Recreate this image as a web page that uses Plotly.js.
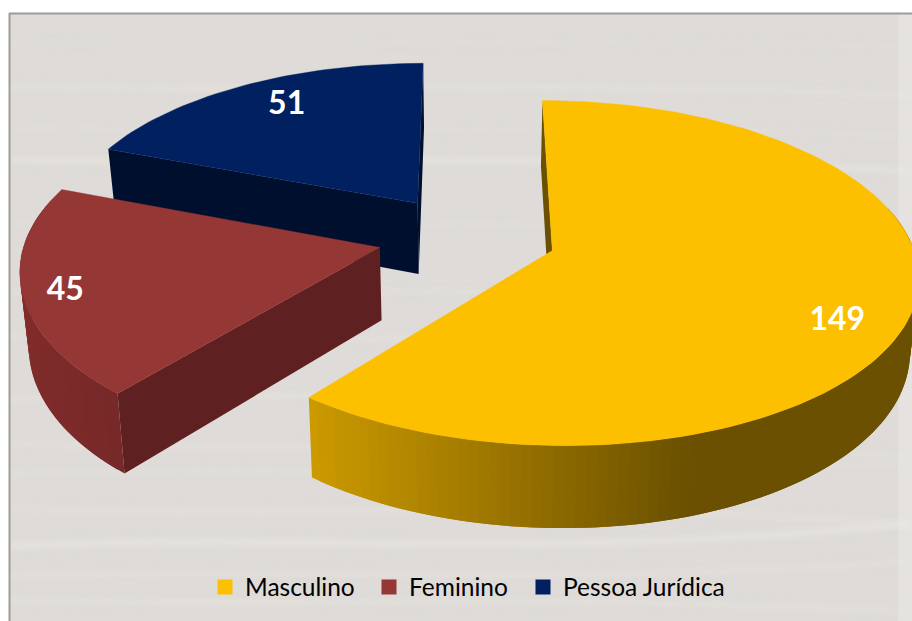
<!DOCTYPE html>
<html><head><meta charset="utf-8">
<script src="https://cdn.plot.ly/plotly-3.0.1.min.js"></script>
<style>html,body{margin:0;padding:0;background:#fff;overflow:hidden}#c{width:912px;height:621px}</style>
</head><body><div id="c"></div>
<script>
// ---- data ----
const categories = ['Masculino', 'Feminino', 'Pessoa Jurídica'];
const counts = [149, 45, 51];
const topColors = ['#FDC000', '#953735', '#002060'];
const radialWallColors = ['#6A5000', '#5E2020', '#000F2E'];

// ---- projection of the tilted, exploded pie onto the page ----
const W = 912, H = 621;
const cam = {cx:467, cy:236.6, f:358, g:166, p:0.129, cyB:309, gB:174, fB:0.98, explode:0.25};
const labelPlacement = [{r:0.83, shift:8}, {r:0.87, shift:-1}, {r:0.81, shift:3.2}];
const labelDrop = 3;
const legendLeft = [205, 369, 523];
const legendMiddle = 587;
const rad = d => d*Math.PI/180;
// the perspective widens the lower-left of the pie: angular warp over the back half
const warp = a => (a > 219 && a < 360) ? a + 6*Math.sin(Math.PI*(a-219)/141) : a;
const rimR = a => (a > 219 && a < 291) ? 1 - 0.016*Math.sin(Math.PI*(a-219)/72) : 1;
function project(X, Y, bottom) {
  const w = 1 + cam.p*Y;
  if (!bottom) return [cam.cx + cam.f*X/w, cam.cy - cam.g*Y/w];
  return [cam.cx + cam.f*cam.fB*X/w, cam.cyB - cam.gB*Y/w];
}
const lerp = (a,b,t)=>a+(b-a)*t;
function mix(c1,c2,t){ t=Math.max(0,Math.min(1,t));
  return 'rgb('+c1.map((v,i)=>Math.round(lerp(v,c2[i],t))).join(',')+')'; }

const total = counts.reduce((s,v)=>s+v,0);
const traces = [];
function poly(pts, color, lw) {
  traces.push({type:'scatter', mode:'lines', x:pts.map(p=>p[0]).concat(pts[0][0]), y:pts.map(p=>p[1]).concat(pts[0][1]),
    fill:'toself', fillcolor:color, line:{color:color, width:lw||0}, showlegend:false, hoverinfo:'skip'});
}
const slices = []; let acc = 0;
counts.forEach((v,i)=>{ const a0 = acc/total*360; acc += v; const a1 = acc/total*360;
  const s = warp(a0), e = warp(a1), m = (s+e)/2;
  slices.push({i, s, e, m, ox:cam.explode*Math.sin(rad(m)), oy:cam.explode*Math.cos(rad(m))}); });

function wallColor(i, x) {
  if (i === 0) return mix([204,154,0],[106,80,0],(x-308)/382);
  if (i === 1) return mix([128,44,43],[118,40,40],(x-20)/100);
  return '#000F2E';
}
function rimPoint(sl,a,b){ const r=rimR(a); return project(sl.ox+r*Math.sin(rad(a)), sl.oy+r*Math.cos(rad(a)), b); }
function drawSlice(sl) {
  const n = Math.max(8, Math.round((sl.e-sl.s)/1.5));
  const arc = []; for (let k=0;k<=n;k++) arc.push(lerp(sl.s,sl.e,k/n));
  // radial walls that the viewer can see (the others lie wholly under the top face)
  const visibleWalls = sl.i === 2 ? [sl.s, sl.e] : [sl.s];
  visibleWalls.forEach(a=>{
    poly([project(sl.ox,sl.oy,false), rimPoint(sl,a,false), rimPoint(sl,a,true), project(sl.ox,sl.oy,true)], radialWallColors[sl.i]);
  });
  // outer wall: only the facets that face the viewer, drawn in order along the rim,
  // each one reaching under its neighbour so that no seams show
  const facing = a => Math.cos(rad(a)) < 0.22;
  const idx = []; for (let k=0;k<n;k++) if (facing(arc[k]) || facing(arc[k+1])) idx.push(k);
  if (sl.i === 0) idx.reverse();
  idx.forEach(k=>{
    const a=arc[k], b=arc[k+1];
    const u = sl.i===0 ? arc[Math.max(0,k-1)] : arc[Math.min(n,k+2)];
    const v = sl.i===0 ? b : a;
    const p=[rimPoint(sl,u,false),rimPoint(sl,v,false),rimPoint(sl,v,true),rimPoint(sl,u,true)];
    poly(p, wallColor(sl.i,(rimPoint(sl,a,false)[0]+rimPoint(sl,b,false)[0])/2));
  });
  // top face
  const top=[project(sl.ox,sl.oy,false)].concat(arc.map(a=>rimPoint(sl,a,false)));
  poly(top, topColors[sl.i], 0.4);
}
[slices[2],slices[1],slices[0]].forEach(drawSlice);

// value labels
const lab = slices.map(sl=>{ const P=labelPlacement[sl.i], a=sl.m+P.shift;
  return project(sl.ox+P.r*Math.sin(rad(a)), sl.oy+P.r*Math.cos(rad(a)), false); });
traces.push({type:'scatter', mode:'text', x:lab.map(p=>p[0]), y:lab.map(p=>p[1]+labelDrop), text:counts.map(String),
  textposition:'middle center', textfont:{family:'Lato, sans-serif', size:32, color:'#fff', weight:700}, showlegend:false, hoverinfo:'skip'});

// legend entries, one small legend each so that the spacing follows the reference
const legendIds = ['legend', 'legend2', 'legend3'];
categories.forEach((c,i)=>traces.push({type:'scatter', mode:'markers', x:[null], y:[null], name:c, legend:legendIds[i],
  marker:{symbol:'square', size:15, color:topColors[i]}}));

// wood-grain style backdrop, faint light streaks
const streakY = [30,75,118,150,215,285,330,395,440,470,505,545,575,600];
const streakAmp = [3,6,5,8,6,-6,10,-14,9,-8,12,-16,-10,8];
const streakWidth = [3,4,3,6,3,3,5,4,5,3,6,7,5,4];
const cv=document.createElement('canvas'); cv.width=W; cv.height=H;
const ctx=cv.getContext('2d');
ctx.fillStyle='#dedbd8'; ctx.fillRect(0,0,W,H);
ctx.filter='blur(3px)';
streakY.forEach((y,i)=>{
  ctx.strokeStyle='rgba(233,230,224,'+(i%2?0.8:0.55)+')'; ctx.lineWidth=streakWidth[i];
  ctx.beginPath(); ctx.moveTo(0,y);
  ctx.bezierCurveTo(W*0.3,y+streakAmp[i],W*0.6,y-streakAmp[i],W,y+streakAmp[i]*1.5);
  ctx.stroke();
});
ctx.filter='none';
ctx.fillStyle='rgba(235,233,230,0.5)'; ctx.fillRect(W-14,0,14,H);

const legendBase = {orientation:'h', y:1-legendMiddle/H, xanchor:'left', yanchor:'middle', bgcolor:'rgba(0,0,0,0)',
  font:{family:'Lato, sans-serif', size:24.5, color:'#000'}, itemclick:false, itemdoubleclick:false};
const layout = {
  width:W, height:H, margin:{l:0,r:0,t:0,b:0}, paper_bgcolor:'#ffffff', plot_bgcolor:'rgba(0,0,0,0)',
  xaxis:{range:[0,W], visible:false, fixedrange:true},
  yaxis:{range:[H,0], visible:false, fixedrange:true},
  images:[{source:cv.toDataURL('image/png'), xref:'x', yref:'y', x:9, y:13, sizex:W-9, sizey:H-13,
    xanchor:'left', yanchor:'top', sizing:'stretch', layer:'below'}],
  shapes:[
    {type:'line', xref:'x', yref:'y', x0:9.5, x1:9.5, y0:13, y1:H, line:{color:'#9c9c9c', width:2}, layer:'above'},
    {type:'line', xref:'x', yref:'y', x0:9, x1:W, y0:13.5, y1:13.5, line:{color:'#9c9c9c', width:2}, layer:'above'}
  ],
  showlegend:true
};
legendIds.forEach((id,i)=>{ layout[id] = Object.assign({}, legendBase, {x:legendLeft[i]/W}); });
Plotly.newPlot('c', traces, layout, {displayModeBar:false, staticPlot:true});
</script></body></html>
